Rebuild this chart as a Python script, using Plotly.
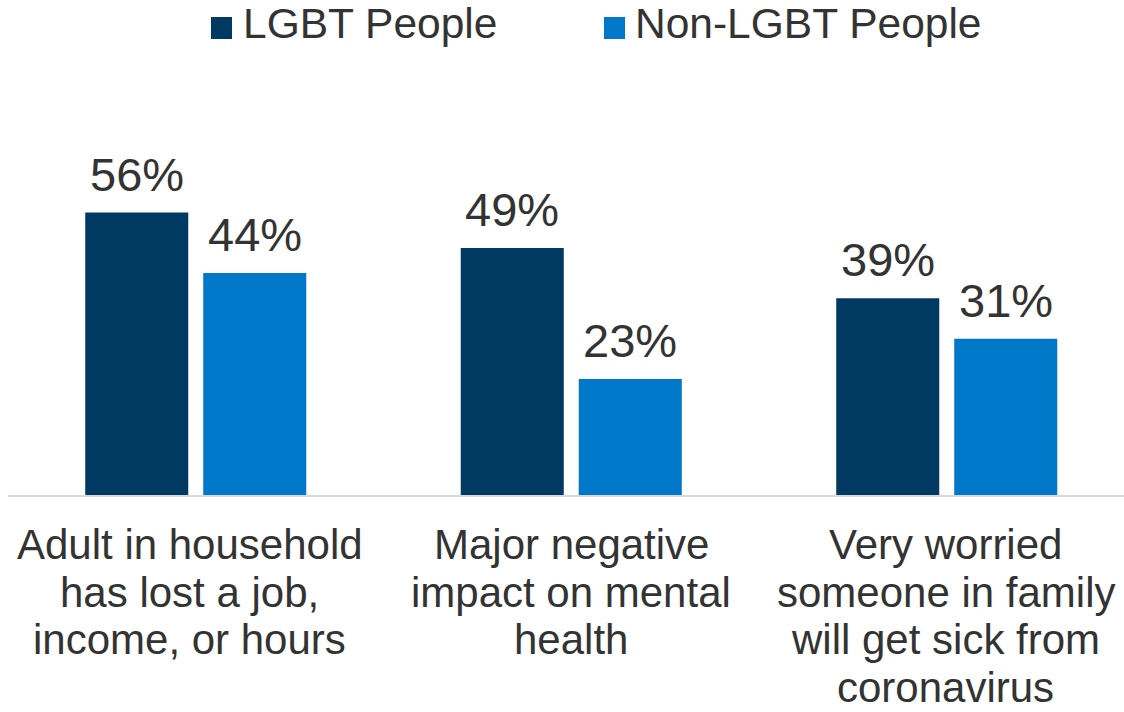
import plotly.graph_objects as go

# Survey results (% of respondents)
categories = [
    "Adult in household<br>has lost a job,<br>income, or hours",
    "Major negative<br>impact on mental<br>health",
    "Very worried<br>someone in family<br>will get sick from<br>coronavirus",
]
series_names = ["LGBT People", "Non-LGBT People"]
lgbt_values = [56, 49, 39]
non_lgbt_values = [44, 23, 31]
colors = ["#003A63", "#0077C8"]

W, H = 1124, 712
M_L, M_R, M_T, M_B = 8, 0, 142, 217
PLOT_W = W - M_L - M_R
PLOT_H = H - M_T - M_B
CAT_PX = 375.5  # pixels per category slot
FONT = "Liberation Sans, Arial, sans-serif"
TEXT_COLOR = "#333333"

# horizontal nudge of each category label block, in pixels
label_xshift = [-6, 0, -1]


def px_x(px):
    return (px - M_L) / PLOT_W


def px_y(py):
    return (H - M_B - py) / PLOT_H


fig = go.Figure()
for name, vals, col in zip(series_names, [lgbt_values, non_lgbt_values], colors):
    fig.add_trace(go.Bar(
        x=categories, y=vals, name=name,
        marker=dict(color=col, line=dict(width=0)),
        showlegend=False, hoverinfo="skip",
    ))

annotations = []
# value labels above each bar
for k, vals in enumerate([lgbt_values, non_lgbt_values]):
    shift = -59 if k == 0 else 59
    for cat, v in zip(categories, vals):
        annotations.append(dict(
            x=cat, y=v, xref="x", yref="y", text=f"{v}%",
            showarrow=False, xanchor="center", yanchor="bottom",
            xshift=shift, yshift=10,
            font=dict(family=FONT, size=47, color=TEXT_COLOR),
        ))

# category labels, one line at a time for tighter line spacing
for cat, dx in zip(categories, label_xshift):
    for i, line in enumerate(cat.split("<br>")):
        baseline = 561 + 47.6 * i
        annotations.append(dict(
            x=cat, y=px_y(baseline + 9), xref="x", yref="paper",
            text=line, showarrow=False, xanchor="center", yanchor="bottom",
            xshift=dx,
            font=dict(family=FONT, size=42, color=TEXT_COLOR),
        ))

# legend
shapes = []
legend_items = [(211, 245), (604, 637)]
for (sq_x, tx_x), name, col in zip(legend_items, series_names, colors):
    shapes.append(dict(
        type="rect", xref="paper", yref="paper",
        x0=px_x(sq_x), x1=px_x(sq_x + 21), y0=px_y(39), y1=px_y(17),
        fillcolor=col, line=dict(width=0),
    ))
    annotations.append(dict(
        x=px_x(tx_x - 4), y=px_y(39 + 10), xref="paper", yref="paper",
        text=name, showarrow=False, xanchor="left", yanchor="bottom",
        font=dict(family=FONT, size=42.5, color=TEXT_COLOR),
    ))

fig.update_layout(
    width=W, height=H,
    margin=dict(l=M_L, r=M_R, t=M_T, b=M_B, pad=0),
    paper_bgcolor="white", plot_bgcolor="white",
    barmode="group", bargap=0.3715, bargroupgap=0.127,
    xaxis=dict(
        type="category", range=[-0.5, -0.5 + PLOT_W / CAT_PX],
        showticklabels=False, ticks="", showgrid=False, zeroline=False,
        showline=True, linecolor="#D9D9D9", linewidth=2, fixedrange=True,
    ),
    yaxis=dict(
        range=[0, 70], visible=False, showgrid=False, zeroline=False,
        fixedrange=True,
    ),
    annotations=annotations,
    shapes=shapes,
    showlegend=False,
)

fig.write_html("out.html", config={"displayModeBar": False})
